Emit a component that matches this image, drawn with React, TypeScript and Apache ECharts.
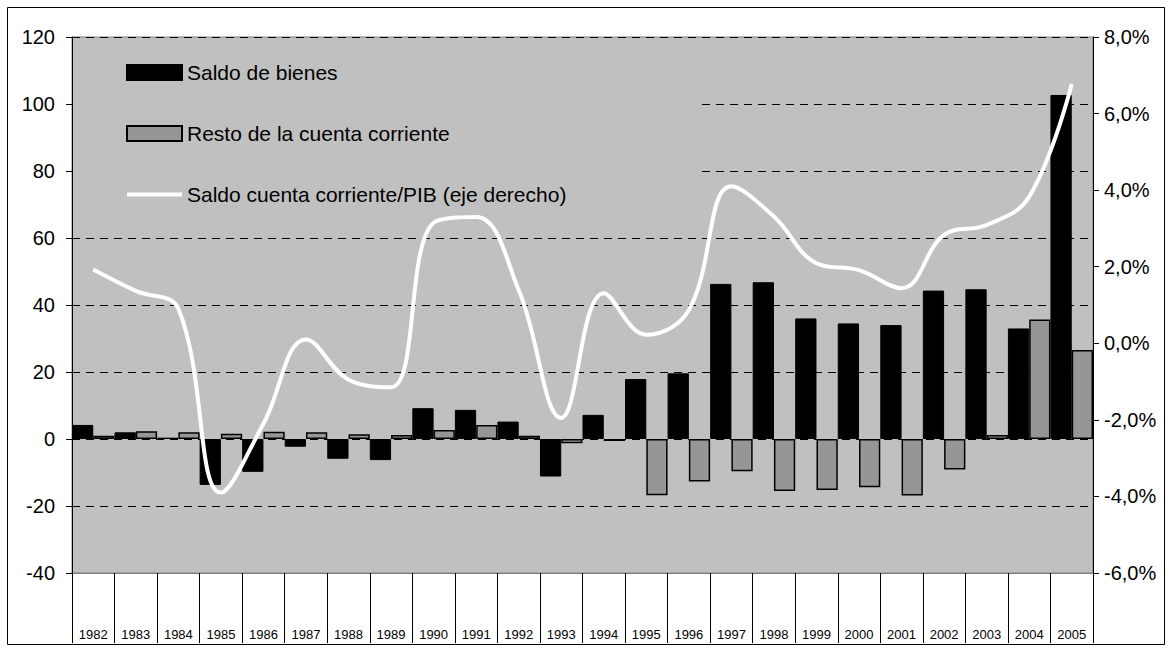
import React, { useEffect, useRef } from "react";
import * as echarts from "echarts";

const years = ["1982","1983","1984","1985","1986","1987","1988","1989","1990","1991","1992","1993","1994","1995","1996","1997","1998","1999","2000","2001","2002","2003","2004","2005"];
const saldoBienes = [4.2, 2.0, 0.4, -13.7, -9.8, -2.3, -5.9, -6.3, 9.2, 8.7, 5.2, -11.2, 7.2, 17.9, 19.6, 46.3, 46.8, 36.0, 34.5, 34.0, 44.3, 44.7, 33.0, 102.7];
const restoCuenta = [1.0, 2.3, 2.0, 1.6, 2.2, 2.0, 1.4, 1.2, 2.7, 4.2, 1.0, -1.3, -0.6, -16.8, -12.7, -9.6, -15.5, -15.2, -14.4, -16.9, -9.1, 1.2, 35.7, 26.6];
const saldoPIB = [1.93, 1.37, 0.9, -3.9, -2.1, 0.1, -0.95, -1.15, 3.15, 3.3, 1.39, -1.95, 1.31, 0.22, 0.87, 4.1, 3.31, 2.09, 1.91, 1.44, 2.83, 3.09, 3.83, 6.77];

const FONT = "Liberation Sans, Arial, sans-serif";

export default function App() {
  const ref = useRef<HTMLDivElement>(null);
  useEffect(() => {
    if (!ref.current) return;
    const chart = echarts.init(ref.current, null, { renderer: "svg" });
    chart.setOption({
      animation: false,
      backgroundColor: "#ffffff",
      textStyle: { fontFamily: FONT },
      grid: {
        left: 72, right: 79, top: 37, bottom: 79,
        show: true, backgroundColor: "#c0c0c0", borderColor: "#808080", borderWidth: 1,
      },
      legend: {
        orient: "vertical",
        left: 125, top: 62, padding: 0,
        itemWidth: 55, itemHeight: 15, itemGap: 40,
        lineStyle: { width: 4 },
        textStyle: { fontSize: 21, color: "#000", fontFamily: FONT },
        data: [
          { name: "Saldo de bienes", icon: "rect" },
          { name: "Resto de la cuenta corriente", icon: "rect" },
          { name: "Saldo cuenta corriente/PIB (eje derecho)", itemStyle: { opacity: 0 } },
        ],
      },
      graphic: [
        { type: "rect", z: 1, silent: true, shape: { x: 73, y: 38, width: 629, height: 180 }, style: { fill: "#c0c0c0" } },
        { type: "rect", z: 0, silent: true, shape: { x: 7.5, y: 7.5, width: 1157, height: 637 }, style: { fill: "none", stroke: "#000", lineWidth: 1 } },
      ],
      xAxis: {
        type: "category",
        data: years,
        boundaryGap: true,
        axisLine: { show: true, onZero: false, lineStyle: { color: "#808080" } },
        axisTick: { show: true, length: 70, interval: 0, lineStyle: { color: "#000" } },
        axisLabel: { interval: 0, margin: 55, fontSize: 13, color: "#000", fontFamily: FONT },
        splitLine: { show: false },
      },
      yAxis: [
        {
          type: "value", min: -40, max: 120, interval: 20,
          axisLine: { show: true, lineStyle: { color: "#000" } },
          axisTick: { show: true, length: 6, lineStyle: { color: "#000" } },
          axisLabel: { margin: 17, fontSize: 20, color: "#000", fontFamily: FONT },
          splitLine: { show: true, lineStyle: { color: "#000", type: [8, 6], width: 1 } },
        },
        {
          type: "value", min: -6, max: 8, interval: 2, position: "right",
          axisLine: { show: true, lineStyle: { color: "#000" } },
          axisTick: { show: true, length: 6, lineStyle: { color: "#000" } },
          axisLabel: {
            margin: 11, fontSize: 20, color: "#000", fontFamily: FONT,
            formatter: (v: number) => v.toFixed(1).replace(".", ",") + "%",
          },
          splitLine: { show: false },
        },
      ],
      series: [
        {
          name: "Saldo de bienes", type: "bar", data: saldoBienes,
          barGap: "0%", barCategoryGap: "0%",
          itemStyle: { color: "#000", borderColor: "#000", borderWidth: 1 },
          z: 2,
        },
        {
          name: "Resto de la cuenta corriente", type: "bar", data: restoCuenta,
          barGap: "0%", barCategoryGap: "0%",
          itemStyle: { color: "#969696", borderColor: "#000", borderWidth: 1.5 },
          z: 2,
        },
        {
          name: "Saldo cuenta corriente/PIB (eje derecho)", type: "line", data: saldoPIB,
          yAxisIndex: 1, smooth: 0.4, showSymbol: false, symbol: "circle",
          lineStyle: { color: "#ffffff", width: 4 },
          itemStyle: { color: "#ffffff" },
          z: 3,
        },
      ],
    });
    return () => chart.dispose();
  }, []);
  return <div ref={ref} style={{ position: "absolute", left: 0, top: 0, width: 1172, height: 652 }} />;
}
